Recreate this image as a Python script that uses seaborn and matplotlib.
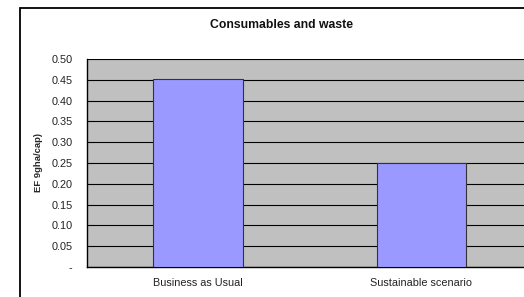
import matplotlib
matplotlib.use("Agg")
import matplotlib.pyplot as plt
import seaborn as sns
import pandas as pd
from matplotlib.patches import Rectangle

categories = ["Business as Usual", "Sustainable scenario"]
values = [0.453, 0.251]
yticks = [0, 0.05, 0.10, 0.15, 0.20, 0.25, 0.30, 0.35, 0.40, 0.45, 0.50]
ytick_labels = ["-", "0.05", "0.10", "0.15", "0.20", "0.25", "0.30", "0.35", "0.40", "0.45", "0.50"]
title = "Consumables and waste"
ylabel = "EF 9gha/cap)"

sns.set_style("white")
plt.rcParams['font.family'] = ['Liberation Sans', 'DejaVu Sans']

fig = plt.figure(figsize=(5.24, 2.97), dpi=100)
fig.patch.set_facecolor("white")
# outer chart border (extends beyond the visible image on right/bottom)
fig.patches.append(Rectangle((20/524, -0.05), 1.2, (297-8)/297 + 0.05, transform=fig.transFigure,
                             fill=False, edgecolor="black", linewidth=1.3))

ax = fig.add_axes([86.5/524, 30/297, 446.5/524, 208/297])
df = pd.DataFrame({"cat": categories, "val": values})
sns.barplot(data=df, x="cat", y="val", ax=ax, color="#9999FF", width=0.4,
            edgecolor="#333333", linewidth=0.8, saturation=1, zorder=3)
ax.set_facecolor("#C0C0C0")
ax.set_xlim(-0.5, 1.5)
ax.set_ylim(0, 0.5)
ax.set_yticks(yticks)
ax.set_yticklabels(ytick_labels, fontsize=7.8, color="#222222")
ax.yaxis.grid(True, color="black", linewidth=0.8, zorder=0)
ax.set_axisbelow(True)
ax.set_xticks([0, 1])
ax.set_xticklabels(categories, fontsize=7.8, color="#222222")
ax.set_xticks([-0.5, 0.5, 1.5], minor=True)
ax.tick_params(axis="x", which="major", length=0, pad=8)
ax.tick_params(axis="x", which="minor", length=3, width=0.8, direction="out", color="black")
ax.tick_params(axis="y", length=4, width=0.8, direction="out", color="black", pad=6)
ax.set_xlabel("")
ax.set_ylabel(ylabel, fontsize=6.8, fontweight="bold")
ax.yaxis.set_label_coords(-(86.5 - 43) / 446.5, 0.5)
for s in ["top", "right"]:
    ax.spines[s].set_visible(False)
for s in ["left", "bottom"]:
    ax.spines[s].set_color("black")
    ax.spines[s].set_linewidth(1.0)
fig.text(281/524, 1 - 25/297, title, ha="center", va="center", fontsize=8.8, fontweight="bold",
         color="#111111")

fig.savefig("out.png", dpi=100)
